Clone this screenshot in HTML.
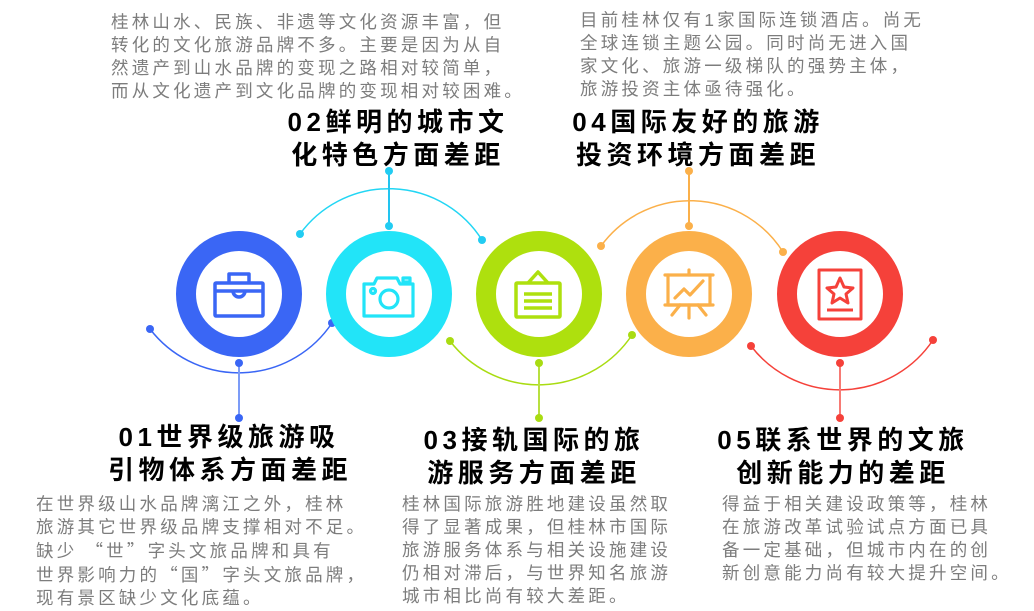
<!DOCTYPE html>
<html><head><meta charset="utf-8"><style>
body{margin:0;width:1034px;height:611px;background:#fff;position:relative;overflow:hidden;font-family:"Liberation Sans","Noto Sans CJK SC",sans-serif}
.b{position:absolute;color:#7d7d7d;font-size:17.5px;line-height:23px;letter-spacing:3.2px;white-space:nowrap}
.q{font-family:"Noto Sans CJK SC",sans-serif}
.t{position:absolute;color:#000;font-weight:bold;font-size:26px;line-height:33px;letter-spacing:4.5px;white-space:nowrap;text-align:center}
svg{position:absolute;left:0;top:0}
</style></head><body>
<svg width="1034" height="611" viewBox="0 0 1034 611" fill="none">
<path d="M150 329 A112 112 0 0 0 332 323" stroke="#3a66f5" stroke-width="1.5"/>
<path d="M300 234 A110 110 0 0 1 482 240" stroke="#22d6f4" stroke-width="1.5"/>
<path d="M450 341 A112 112 0 0 0 632 335" stroke="#a9dc12" stroke-width="1.5"/>
<path d="M601 246 A110 110 0 0 1 783 252" stroke="#fbb04a" stroke-width="1.5"/>
<path d="M751 346 A112 112 0 0 0 933 340" stroke="#f5413a" stroke-width="1.5"/>
<line x1="239" y1="363" x2="239" y2="418" stroke="#7c9cf7" stroke-width="2"/>
<line x1="389" y1="171" x2="389" y2="226" stroke="#22c4f0" stroke-width="2"/>
<line x1="539" y1="363" x2="539" y2="418" stroke="#b8e040" stroke-width="2"/>
<line x1="689" y1="171" x2="689" y2="226" stroke="#fbb04a" stroke-width="2"/>
<line x1="840" y1="363" x2="840" y2="418" stroke="#f77a74" stroke-width="2"/>
<g fill="#3a66f5"><circle cx="150" cy="329" r="4"/><circle cx="332" cy="323" r="4"/><circle cx="239" cy="363" r="4"/><circle cx="239" cy="418" r="4"/></g>
<g fill="#22ccf2"><circle cx="300" cy="234" r="4"/><circle cx="482" cy="240" r="4"/><circle cx="389" cy="226" r="4"/><circle cx="389" cy="171" r="4"/></g>
<g fill="#a9dc12"><circle cx="450" cy="341" r="4"/><circle cx="632" cy="335" r="4"/><circle cx="539" cy="363" r="4"/><circle cx="539" cy="418" r="4"/></g>
<g fill="#fbb04a"><circle cx="601" cy="246" r="4"/><circle cx="783" cy="252" r="4"/><circle cx="689" cy="226" r="4"/><circle cx="689" cy="171" r="4"/></g>
<g fill="#f5413a"><circle cx="751" cy="346" r="4"/><circle cx="933" cy="340" r="4"/><circle cx="840" cy="363" r="4"/><circle cx="840" cy="418" r="4"/></g>
<circle cx="239" cy="294" r="53" stroke="#3a66f5" stroke-width="20"/>
<circle cx="389" cy="294" r="53" stroke="#22e4f8" stroke-width="20"/>
<circle cx="539" cy="294" r="53" stroke="#aee00e" stroke-width="20"/>
<circle cx="689" cy="294" r="53" stroke="#fbb04a" stroke-width="20"/>
<circle cx="840" cy="294" r="53" stroke="#f5413a" stroke-width="20"/>
<g stroke="#3a66f5" stroke-width="3.5" stroke-linejoin="round">
<rect x="215" y="283" width="48" height="33" rx="1"/><line x1="215" y1="291" x2="263" y2="291"/>
<path d="M229 283 v-9 h20 v9"/><path d="M233 291 a6 6 0 0 0 12 0"/></g>
<g stroke="#22e4f8" stroke-width="3.2" stroke-linejoin="round">
<path d="M364 284 h10 l3 -6 h20 l3 6 h13 v32 h-49 z"/><rect x="403" y="278" width="7" height="4"/>
<circle cx="389" cy="299" r="9"/><circle cx="373" cy="291" r="2.5"/></g>
<g stroke="#aee00e" stroke-width="3.5" stroke-linejoin="round">
<rect x="516" y="283" width="44" height="34" rx="1"/><path d="M528 283 l10 -11 l10 11"/>
<line x1="524" y1="294" x2="552" y2="294"/><line x1="524" y1="301" x2="552" y2="301"/><line x1="524" y1="308" x2="552" y2="308"/></g>
<g stroke="#fbb04a" stroke-width="3.2" stroke-linecap="round" stroke-linejoin="round">
<line x1="665" y1="275" x2="713" y2="275"/><line x1="689" y1="270" x2="689" y2="275"/>
<path d="M668 275 v30 h42 v-30"/><line x1="665" y1="305" x2="713" y2="305"/>
<path d="M675 298 l9 -9 l6 6 l13 -14"/><line x1="689" y1="305" x2="689" y2="318"/>
<line x1="680" y1="305" x2="672" y2="315"/><line x1="698" y1="305" x2="706" y2="315"/></g>
<g stroke="#f5413a" stroke-width="3" stroke-linejoin="round">
<rect x="819" y="270" width="42" height="49"/>
<path d="M840 278 l4 9 l9 1 l-7 6 l2 9 l-8 -5 l-8 5 l2 -9 l-7 -6 l9 -1 z"/>
<line x1="827" y1="310" x2="853" y2="310"/></g>
</svg>
<div class="b" style="left:111px;top:11px">桂林山水、民族、非遗等文化资源丰富，但<br>转化的文化旅游品牌不多。主要是因为从自<br>然遗产到山水品牌的变现之路相对较简单，<br>而从文化遗产到文化品牌的变现相对较困难。</div>
<div class="t" style="left:282px;top:106px;width:232px">02鲜明的城市文<br>化特色方面差距</div>
<div class="b" style="left:580px;top:9px">目前桂林仅有1家国际连锁酒店。尚无<br>全球连锁主题公园。同时尚无进入国<br>家文化、旅游一级梯队的强势主体，<br>旅游投资主体亟待强化。</div>
<div class="t" style="left:568px;top:106px;width:260px">04国际友好的旅游<br>投资环境方面差距</div>
<div class="t" style="left:108px;top:421px;width:242px">01世界级旅游吸<br>引物体系方面差距</div>
<div class="b" style="left:36px;top:493px">在世界级山水品牌漓江之外，桂林<br>旅游其它世界级品牌支撑相对不足。<br>缺少 <span class="q">“世”</span>字头文旅品牌和具有<br>世界影响力的<span class="q">“国”</span>字头文旅品牌，<br>现有景区缺少文化底蕴。</div>
<div class="t" style="left:418px;top:424px;width:232px">03接轨国际的旅<br>游服务方面差距</div>
<div class="b" style="left:402px;top:493px">桂林国际旅游胜地建设虽然取<br>得了显著成果，但桂林市国际<br>旅游服务体系与相关设施建设<br>仍相对滞后，与世界知名旅游<br>城市相比尚有较大差距。</div>
<div class="t" style="left:715px;top:424px;width:256px">05联系世界的文旅<br>创新能力的差距</div>
<div class="b" style="left:722px;top:493px">得益于相关建设政策等，桂林<br>在旅游改革试验试点方面已具<br>备一定基础，但城市内在的创<br>新创意能力尚有较大提升空间。</div>
</body></html>
